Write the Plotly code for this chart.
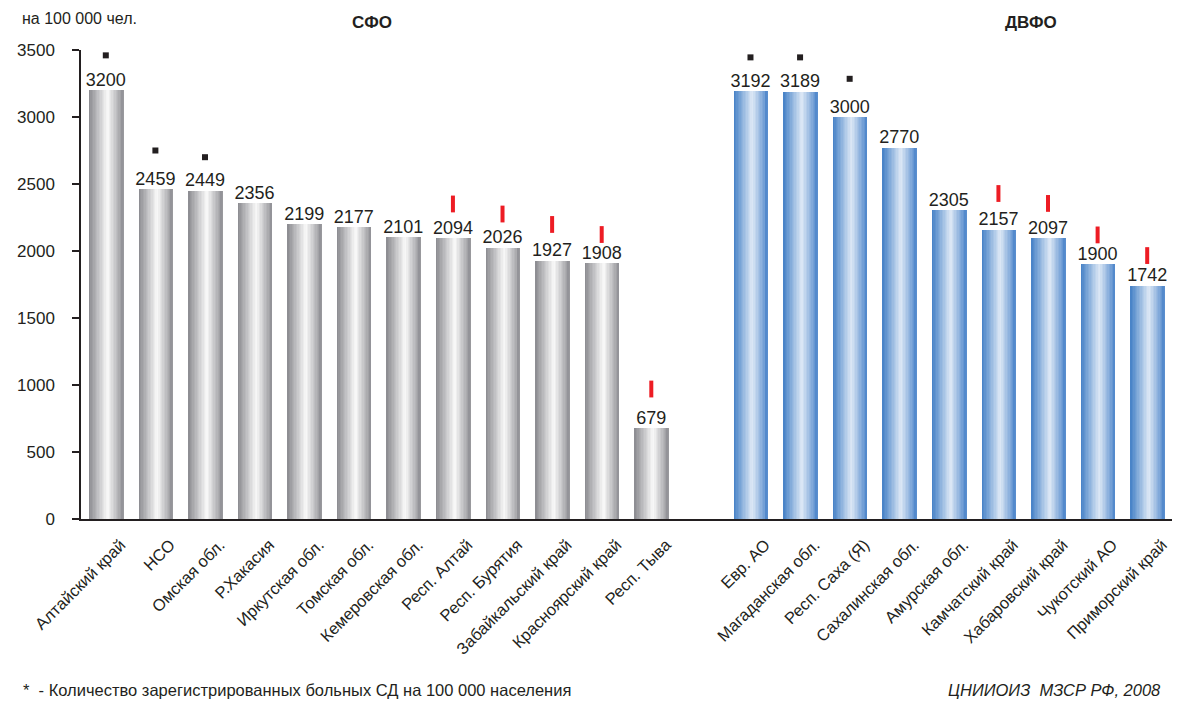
import plotly.graph_objects as go

# --- data -------------------------------------------------------------
sfo_regions = ["Алтайский край", "НСО", "Омская обл.", "Р.Хакасия", "Иркутская обл.",
               "Томская обл.", "Кемеровская обл.", "Респ. Алтай", "Респ. Бурятия",
               "Забайкальский край", "Красноярский край", "Респ. Тыва"]
sfo_values = [3200, 2459, 2449, 2356, 2199, 2177, 2101, 2094, 2026, 1927, 1908, 679]
sfo_square = [3460, 2750, 2700, None, None, None, None, None, None, None, None, None]
sfo_red = [None, None, None, None, None, None, None, 2351, 2276, 2198, 2123, 970]

dvfo_regions = ["Евр. АО", "Магаданская обл.", "Респ. Саха (Я)", "Сахалинская обл.",
                "Амурская обл.", "Камчатский край", "Хабаровский край", "Чукотский АО",
                "Приморский край"]
dvfo_values = [3192, 3189, 3000, 2770, 2305, 2157, 2097, 1900, 1742]
dvfo_square = [3445, 3445, 3285, None, None, None, None, None, None]
dvfo_red = [None, None, None, None, None, 2429, 2355, 2120, 1966]

y_ticks = [0, 500, 1000, 1500, 2000, 2500, 3000, 3500]

FONT = "Liberation Sans, Arial, sans-serif"
TXT = "#231f20"

# one empty slot between the two districts
sfo_x = list(range(len(sfo_regions)))
dvfo_x = [len(sfo_regions) + 1 + i for i in range(len(dvfo_regions))]
all_x = sfo_x + dvfo_x
label_shift = 0.3  # rotated labels end a little right of the bar centre


def mix(stops, t):
    # linear interpolation across colour stops [(pos, (r,g,b)), ...]
    for (p0, c0), (p1, c1) in zip(stops, stops[1:]):
        if p0 <= t <= p1:
            f = (t - p0) / (p1 - p0)
            return "rgb(%d,%d,%d)" % tuple(round(a + (b - a) * f) for a, b in zip(c0, c1))
    return "rgb(%d,%d,%d)" % stops[-1][1]


grey_stops = [(0, (138, 138, 143)), (0.55, (250, 250, 250)), (1, (148, 148, 153))]
blue_stops = [(0, (68, 128, 198)), (0.55, (222, 233, 246)), (1, (84, 138, 204))]

fig = go.Figure()

# gradient bars built from thin vertical strips
bar_w = 0.68
n_strips = 24
strip = bar_w / n_strips
for xs, vals, stops in [(sfo_x, sfo_values, grey_stops), (dvfo_x, dvfo_values, blue_stops)]:
    for i in range(n_strips):
        t = (i + 0.5) / n_strips
        fig.add_trace(go.Bar(
            x=xs, y=vals, width=strip * 1.6, offset=-bar_w / 2 + i * strip,
            marker=dict(color=mix(stops, t), line=dict(width=0)),
            hoverinfo="skip", showlegend=False
        ))
    # cover the overlap on the right edge
    fig.add_trace(go.Bar(
        x=xs, y=vals, width=strip, offset=bar_w / 2 - strip,
        marker=dict(color=mix(stops, 1), line=dict(width=0)),
        hoverinfo="skip", showlegend=False
    ))

# value labels
fig.add_trace(go.Scatter(
    x=all_x, y=sfo_values + dvfo_values, mode="text",
    text=[str(v) for v in sfo_values + dvfo_values], textposition="top center",
    textfont=dict(family=FONT, size=18, color=TXT), showlegend=False, hoverinfo="skip"
))

# significance markers
fig.add_trace(go.Scatter(
    x=all_x, y=sfo_square + dvfo_square, mode="markers",
    marker=dict(symbol="square", size=6, color="#231f20"), showlegend=False, hoverinfo="skip"
))
fig.add_trace(go.Scatter(
    x=all_x, y=sfo_red + dvfo_red, mode="markers",
    marker=dict(symbol="line-ns", size=12, line=dict(width=4, color="#ed1c24")),
    showlegend=False, hoverinfo="skip"
))

# the page body adds an 8px offset, so the figure is 8px smaller
fig.update_layout(
    width=1173, height=694,
    barmode="overlay", bargap=0,
    plot_bgcolor="white", paper_bgcolor="white",
    margin=dict(l=64, r=9, t=42, b=183),
    font=dict(family=FONT, color=TXT),
    xaxis=dict(
        range=[-0.5, len(all_x) + 0.5],
        tickvals=[x + label_shift for x in all_x], ticktext=sfo_regions + dvfo_regions,
        tickangle=-45, tickfont=dict(size=16.5, color=TXT), ticklabelstandoff=8,
        showline=True, linecolor="#231f20", linewidth=1.5,
        showgrid=False, zeroline=False, ticks=""
    ),
    yaxis=dict(
        range=[0, 3500], tickvals=y_ticks,
        tickfont=dict(size=17, color=TXT),
        showline=True, linecolor="#231f20", linewidth=1.5,
        ticks="outside", ticklen=7, tickcolor="#231f20", tickwidth=1.5,
        ticklabelstandoff=14,
        showgrid=False, zeroline=False
    ),
    annotations=[
        dict(text="на 100 000 чел.", xref="paper", yref="paper", x=-62 / 1100, y=1 + 32 / 469,
             xanchor="left", yanchor="middle", showarrow=False, font=dict(size=16)),
        dict(text="<b>СФО</b>", xref="x", yref="paper", x=5.36, y=1 + 28 / 469,
             xanchor="center", yanchor="middle", showarrow=False, font=dict(size=17)),
        dict(text="<b>ДВФО</b>", xref="x", yref="paper", x=18.66, y=1 + 28 / 469,
             xanchor="center", yanchor="middle", showarrow=False, font=dict(size=17)),
        dict(text="*  - Количество зарегистрированных больных СД на 100 000 населения",
             xref="paper", yref="paper", x=-60 / 1100, y=-171 / 469,
             xanchor="left", yanchor="middle", showarrow=False, font=dict(size=16.5)),
        dict(text="<i>ЦНИИОИЗ  МЗСР РФ, 2008</i>",
             xref="paper", yref="paper", x=1 - 9 / 1100, y=-171 / 469,
             xanchor="right", yanchor="middle", showarrow=False, font=dict(size=16.5)),
    ],
)

fig.write_html("out.html")
